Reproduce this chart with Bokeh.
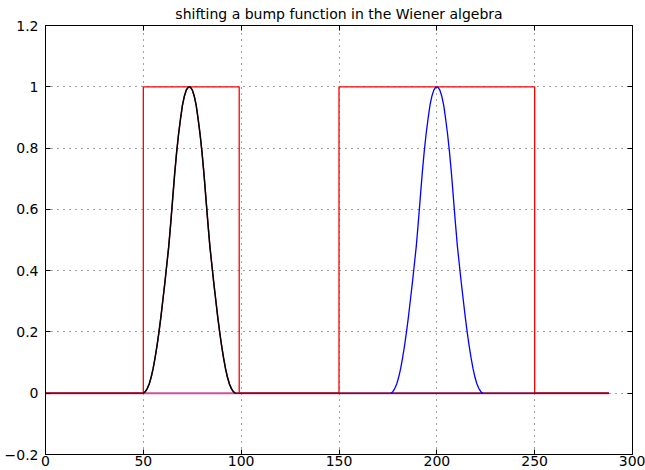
from bokeh.plotting import figure
from bokeh.models import Range1d, FixedTicker, LinearAxis, CustomJSTickFormatter
from bokeh.embed import file_html
from bokeh.resources import INLINE

# ---------------- data ----------------
title_text = "shifting a bump function in the Wiener algebra"

x_ticks = [0, 50, 100, 150, 200, 250, 300]
y_ticks = [-0.2, 0, 0.2, 0.4, 0.6, 0.8, 1.0, 1.2]
y_tick_labels = ["\u22120.2", "0", "0.2", "0.4", "0.6", "0.8", "1", "1.2"]

signal_end = 288

bump_x = list(range(50, 98))
bump_left = [0.0, 0.005, 0.015, 0.03, 0.052, 0.08, 0.115, 0.155, 0.20, 0.25,
             0.305, 0.36, 0.42, 0.48, 0.555, 0.635, 0.715, 0.785, 0.845,
             0.895, 0.94, 0.97, 0.99, 0.999]
bump_y = bump_left + bump_left[::-1]

# shifted copy (blue)
bump_shift = 126.5
blue_x = [x + bump_shift for x in bump_x]

# indicator (red) step function
red_x = [0, 50, 50, 99, 99, 150, 150, 250, 250, signal_end]
red_y = [0, 0, 1, 1, 0, 0, 1, 1, 0, 0]

# zero series
zero_x = [0, signal_end]
zero_y = [0, 0]

# full black series incl. its zero part
black_full_x = [0] + bump_x + [signal_end]
black_full_y = [0] + bump_y + [0]

# ---------------- figure ----------------
FONT = "DejaVu Sans"

p = figure(width=645, height=470,
           x_range=Range1d(0, 300), y_range=Range1d(-0.2, 1.2),
           output_backend="svg", toolbar_location=None,
           title=title_text,
           min_border_left=45, min_border_right=13,
           min_border_top=25, min_border_bottom=16)

p.background_fill_color = "white"
p.border_fill_color = "white"
p.outline_line_color = "black"
p.outline_line_width = 1

p.title.text_font = FONT
p.title.text_font_size = "14px"
p.title.text_font_style = "normal"
p.title.text_color = "black"
p.title.align = "center"
p.title.standoff = 7
p.title.text_line_height = 1.0

xt = FixedTicker(ticks=x_ticks)
yt = FixedTicker(ticks=y_ticks)

for ax, tk in ((p.xaxis[0], xt), (p.yaxis[0], yt)):
    ax.ticker = tk
    ax.major_tick_in = 5
    ax.major_tick_out = 0
    ax.minor_tick_line_color = None
    ax.axis_line_color = "black"
    ax.major_tick_line_color = "black"
    ax.major_label_text_font = FONT
    ax.major_label_text_font_size = "14px"
    ax.major_label_text_color = "black"

p.xaxis[0].major_label_standoff = 1
p.yaxis[0].major_label_standoff = 7
p.yaxis[0].major_label_overrides = {t: l for t, l in zip(y_ticks, y_tick_labels)}

blank = CustomJSTickFormatter(code="return ''")
top_ax = LinearAxis(ticker=FixedTicker(ticks=x_ticks), major_tick_in=5, major_tick_out=0,
                    minor_tick_line_color=None, formatter=blank,
                    major_label_standoff=0, axis_line_color="black")
right_ax = LinearAxis(ticker=FixedTicker(ticks=y_ticks), major_tick_in=5, major_tick_out=0,
                      minor_tick_line_color=None, formatter=blank,
                      major_label_standoff=0, axis_line_color="black")
p.add_layout(top_ax, "above")
p.add_layout(right_ax, "right")

p.xgrid.ticker = FixedTicker(ticks=x_ticks)
p.ygrid.ticker = FixedTicker(ticks=y_ticks)
for g in (p.xgrid[0], p.ygrid[0]):
    g.grid_line_color = "#444444"
    g.grid_line_dash = "1 5"
    g.grid_line_width = 1

# ---------------- lines ----------------
p.line(zero_x, zero_y, line_color="#d050a0", line_width=2)
p.line(red_x, red_y, line_color="#ff0000", line_width=1.3)
p.line(black_full_x, black_full_y, line_color="#6a1426", line_width=1.5)
p.line(blue_x, bump_y, line_color="#0000ff", line_width=1.3)
p.line(bump_x, bump_y, line_color="#000000", line_width=1.3)

open("out.html", "w").write(file_html(p, INLINE))
